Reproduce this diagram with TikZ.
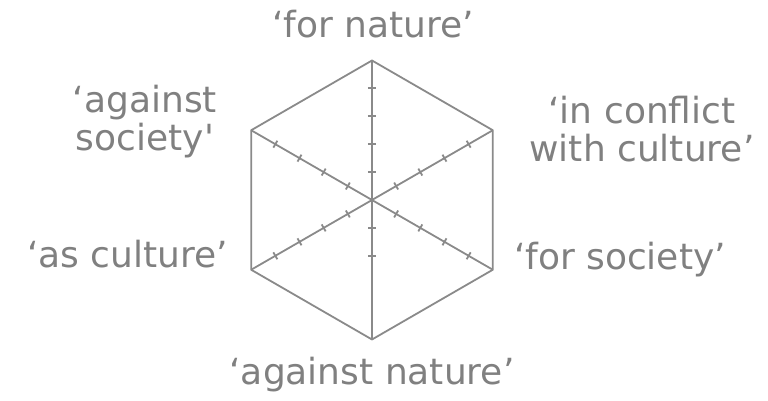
\documentclass[tikz,border=0pt]{standalone}
\usepackage{fontspec}
\newfontfamily\labfont{DejaVu Sans}
\usetikzlibrary{calc}
\definecolor{hexgray}{HTML}{8A8A8A}
\definecolor{labgray}{HTML}{808080}

\begin{document}
\begin{tikzpicture}[x=0.5pt, y=0.5pt,
  edge/.style={draw=hexgray, line width=0.9pt, line join=round},
  tickline/.style={draw=hexgray, line width=0.9pt},
  lab/.style={text=labgray, align=center,
              font=\labfont\fontsize{18pt}{19pt}\selectfont}]
\useasboundingbox (-372,-201) rectangle (396,200);
\coordinate (c) at (0,0);
\foreach \a [count=\i] in {90,150,210,270,330,30}
  \coordinate (v\i) at (\a:139.5);
% hexagon and spokes
\draw[edge] (v1) -- (v2) -- (v3) -- (v4) -- (v5) -- (v6) -- cycle;
\foreach \i in {1,...,6}
  \draw[edge] (c) -- (v\i);
% scale ticks
\foreach \i/\n in {1/4,2/4,3/4,4/2,5/4,6/4}
  \foreach \k in {1,...,\n}
    \draw[tickline] ($(c)!\k/5!(v\i)!2pt!90:(v\i)$)
      -- ($(c)!\k/5!(v\i)!2pt!-90:(v\i)$);
% labels
\node[lab, anchor=base] (fornat) at (1,162) {‘for nature’};
\node[lab] (agsoc) at (-227,78) {‘against\\society'};
\node[lab, anchor=base] (ascult) at (-244.5,-68) {‘as culture’};
\node[lab] (inconf) at (270,71) {‘in conflict\\with culture’};
\node[lab, anchor=base] (forsoc) at (248,-70) {‘for society’};
\node[lab, anchor=base] (agnat) at (0,-185) {‘against nature’};
\end{tikzpicture}
\end{document}
